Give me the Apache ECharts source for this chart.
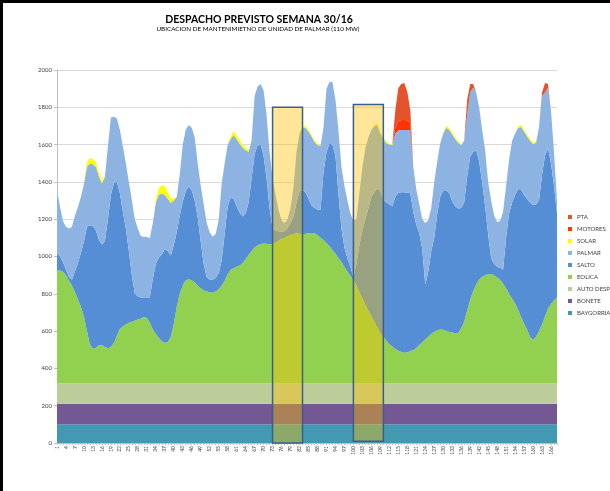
<!DOCTYPE html>
<html><head><meta charset="utf-8">
<script src="https://cdn.jsdelivr.net/npm/echarts@6/dist/echarts.min.js"></script>
<style>html,body{margin:0;padding:0;background:#fff}#c{width:610px;height:491px}</style>
</head><body><div id="c"></div>
<script>
const hours = Array.from({length:168}, (_, i) => String(i + 1));

const BAYGORRIA = new Array(168).fill(100);
const BONETE = new Array(168).fill(110);
const AUTO_DESP = new Array(168).fill(110);

const EOLICA = [608,605,598,580,550,525,490,450,411,357,280,210,185,190,205,205,195,188,195,216,
255,292,305,315,325,330,337,342,348,355,350,325,290,265,245,225,218,220,250,320,
410,480,525,552,558,552,540,525,510,498,492,488,486,492,506,525,550,585,608,618,
625,632,645,665,690,710,728,740,747,750,748,746,747,755,765,775,780,788,795,800,
805,802,798,802,806,806,804,795,780,768,753,735,715,695,672,650,625,600,575,555,
525,490,455,422,390,360,330,300,270,250,230,210,197,185,175,168,164,166,172,179,
190,205,220,236,250,265,277,285,289,287,281,277,273,269,270,295,330,390,450,495,
530,555,572,580,585,586,580,568,555,535,510,480,455,430,395,355,320,288,250,232,
250,280,315,360,400,425,445,460];

const SALTO = [89,75,52,30,20,30,110,195,289,403,560,638,660,630,565,540,565,692,815,859,
825,728,615,515,385,250,143,123,112,103,108,135,270,375,430,465,502,490,435,420,
400,420,450,478,497,483,440,365,250,142,78,67,69,73,84,135,250,365,387,372,
325,283,250,245,280,390,502,535,533,470,352,194,83,65,50,38,35,42,65,95,
165,228,237,223,184,149,136,137,150,362,487,550,565,525,348,180,105,70,50,17,
115,250,365,458,550,640,695,746,760,735,740,750,751,815,845,857,861,856,847,741,
660,600,500,294,350,445,503,625,711,748,754,743,702,681,668,645,640,720,765,745,
720,635,508,370,215,84,60,57,65,75,270,430,515,580,645,685,690,702,720,724,
710,700,805,860,860,755,615,450];

const PALMAR = [340,267,220,230,260,285,300,300,300,310,320,332,330,340,340,327,348,390,415,355,
340,340,350,350,370,403,400,365,330,327,328,318,300,330,335,329,290,280,283,240,
191,220,305,330,330,335,340,290,300,320,290,255,231,235,286,410,380,330,315,341,
360,370,370,340,272,205,310,316,325,350,340,300,270,190,115,62,43,50,80,159,
270,310,335,345,360,370,355,346,342,240,340,330,335,300,340,330,330,310,286,298,
240,280,340,380,380,360,355,339,310,325,317,320,330,340,335,333,333,336,339,240,
190,155,160,330,275,230,300,280,287,305,335,340,360,360,352,338,330,330,345,345,
310,290,280,301,280,310,260,240,250,310,280,290,330,330,330,335,340,335,330,327,
330,396,420,340,325,280,180,70];

const SOLAR = [0,0,0,0,0,0,0,0,0,5,25,28,28,25,20,15,5,0,0,0,
0,0,0,0,0,0,0,0,0,0,0,0,0,15,35,45,45,35,25,10,
0,0,0,0,0,0,0,0,0,0,0,0,0,0,0,0,0,5,15,20,
20,18,15,12,10,3,0,0,0,0,0,0,0,0,0,0,0,0,0,0,
0,5,10,10,10,8,8,6,3,0,0,0,0,0,0,0,0,0,0,0,
0,0,0,0,0,0,5,10,10,8,8,6,3,0,0,0,0,0,0,0,
0,0,0,0,0,0,0,0,0,5,10,10,10,10,8,4,0,0,0,0,
0,0,0,0,0,0,0,0,0,0,0,0,0,0,5,10,10,10,10,8,
3,0,0,0,0,0,0,0];

const MOTORES = new Array(168).fill(0);
[[114,30],[115,50],[116,54],[117,54],[118,52],[119,40]].forEach(([h,v]) => { MOTORES[h-1] = v; });

const PTA = new Array(168).fill(0);
[[114,95],[115,178],[116,193],[117,198],[118,154],[119,67],
 [138,80],[139,45],[140,20],[163,20],[164,50],[165,20]].forEach(([h,v]) => { PTA[h-1] = v; });

// maintenance candidate windows (annotation boxes)
const boxes = [
  {from:'73', to:'83', top:1800, bottom:0},
  {from:'100', to:'110', top:1815, bottom:10}
];

const legendOrder = ['PTA','MOTORES','SOLAR','PALMAR','SALTO','EOLICA','AUTO DESP','BONETE','BAYGORRIA'];
const colors = {
  'BAYGORRIA':'#4299B1','BONETE':'#735893','AUTO DESP':'#BDCD9A','EOLICA':'#92D050',
  'SALTO':'#558ED5','PALMAR':'#8DB3E2','SOLAR':'#FFFF00','MOTORES':'#FF3300','PTA':'#E4532B'
};
const stackOrder = [['BAYGORRIA',BAYGORRIA],['BONETE',BONETE],['AUTO DESP',AUTO_DESP],['EOLICA',EOLICA],
  ['SALTO',SALTO],['PALMAR',PALMAR],['SOLAR',SOLAR],['MOTORES',MOTORES],['PTA',PTA]];

const series = stackOrder.map(([name, data]) => ({
  type:'line', name, data, stack:'total', symbol:'none', smooth:false,
  lineStyle:{width:0}, itemStyle:{color:colors[name]},
  areaStyle:{color:colors[name], opacity:1}, emphasis:{disabled:true}, silent:true, z:2
}));
series.push({
  type:'line', name:'boxes', data:hours.map(() => null), symbol:'none', z:10, silent:true,
  lineStyle:{width:0},
  markArea:{
    silent:true, z:10,
    itemStyle:{color:'rgba(255,192,0,0.4)', borderColor:'#3B5E8C', borderWidth:1.5},
    data: boxes.map(b => [{coord:[b.from, b.top]}, {coord:[b.to, b.bottom]}])
  }
});

const chart = echarts.init(document.getElementById('c'), null, {renderer:'canvas'});
chart.setOption({
  animation:false,
  backgroundColor:'#fff',
  graphic:[
    {type:'rect', shape:{x:0, y:0, width:610, height:3}, style:{fill:'#000'}, silent:true},
    {type:'rect', shape:{x:0, y:0, width:3, height:491}, style:{fill:'#000'}, silent:true}
  ],
  title:[
    {text:'DESPACHO PREVISTO SEMANA 30/16', left:254, top:9, textAlign:'center',
     textStyle:{fontFamily:'Lato, sans-serif', fontWeight:'bold', fontSize:10.5, color:'#000'}},
    {text:'UBICACION DE MANTENIMIETNO DE UNIDAD DE PALMAR (110 MW)', left:253, top:21, textAlign:'center',
     textStyle:{fontFamily:'Lato, sans-serif', fontWeight:'normal', fontSize:6.3, color:'#000'}}
  ],
  legend:{
    data:legendOrder, orient:'vertical', left:568, top:213, icon:'rect', padding:0,
    itemWidth:4, itemHeight:4, itemGap:4,
    textStyle:{fontFamily:'Lato, sans-serif', fontSize:6, lineHeight:8, color:'#404040'}
  },
  grid:{left:57, right:53, top:70, bottom:48, containLabel:false},
  xAxis:{
    type:'category', data:hours, boundaryGap:false,
    axisLine:{lineStyle:{color:'#BFBFBF'}},
    axisTick:{show:true, interval:0, length:2, lineStyle:{color:'#BFBFBF'}},
    axisLabel:{interval:2, rotate:90, fontSize:5, margin:3, color:'#404040', fontFamily:'Lato, sans-serif'},
    splitLine:{show:false}
  },
  yAxis:{
    type:'value', min:0, max:2000, interval:200,
    axisLine:{show:true, lineStyle:{color:'#BFBFBF'}},
    axisTick:{show:true, length:3, lineStyle:{color:'#BFBFBF'}},
    axisLabel:{fontSize:6, color:'#404040', margin:5, fontFamily:'Lato, sans-serif', formatter:v => String(v)},
    splitLine:{lineStyle:{color:'#D9D9D9'}}
  },
  series
});
</script></body></html>
